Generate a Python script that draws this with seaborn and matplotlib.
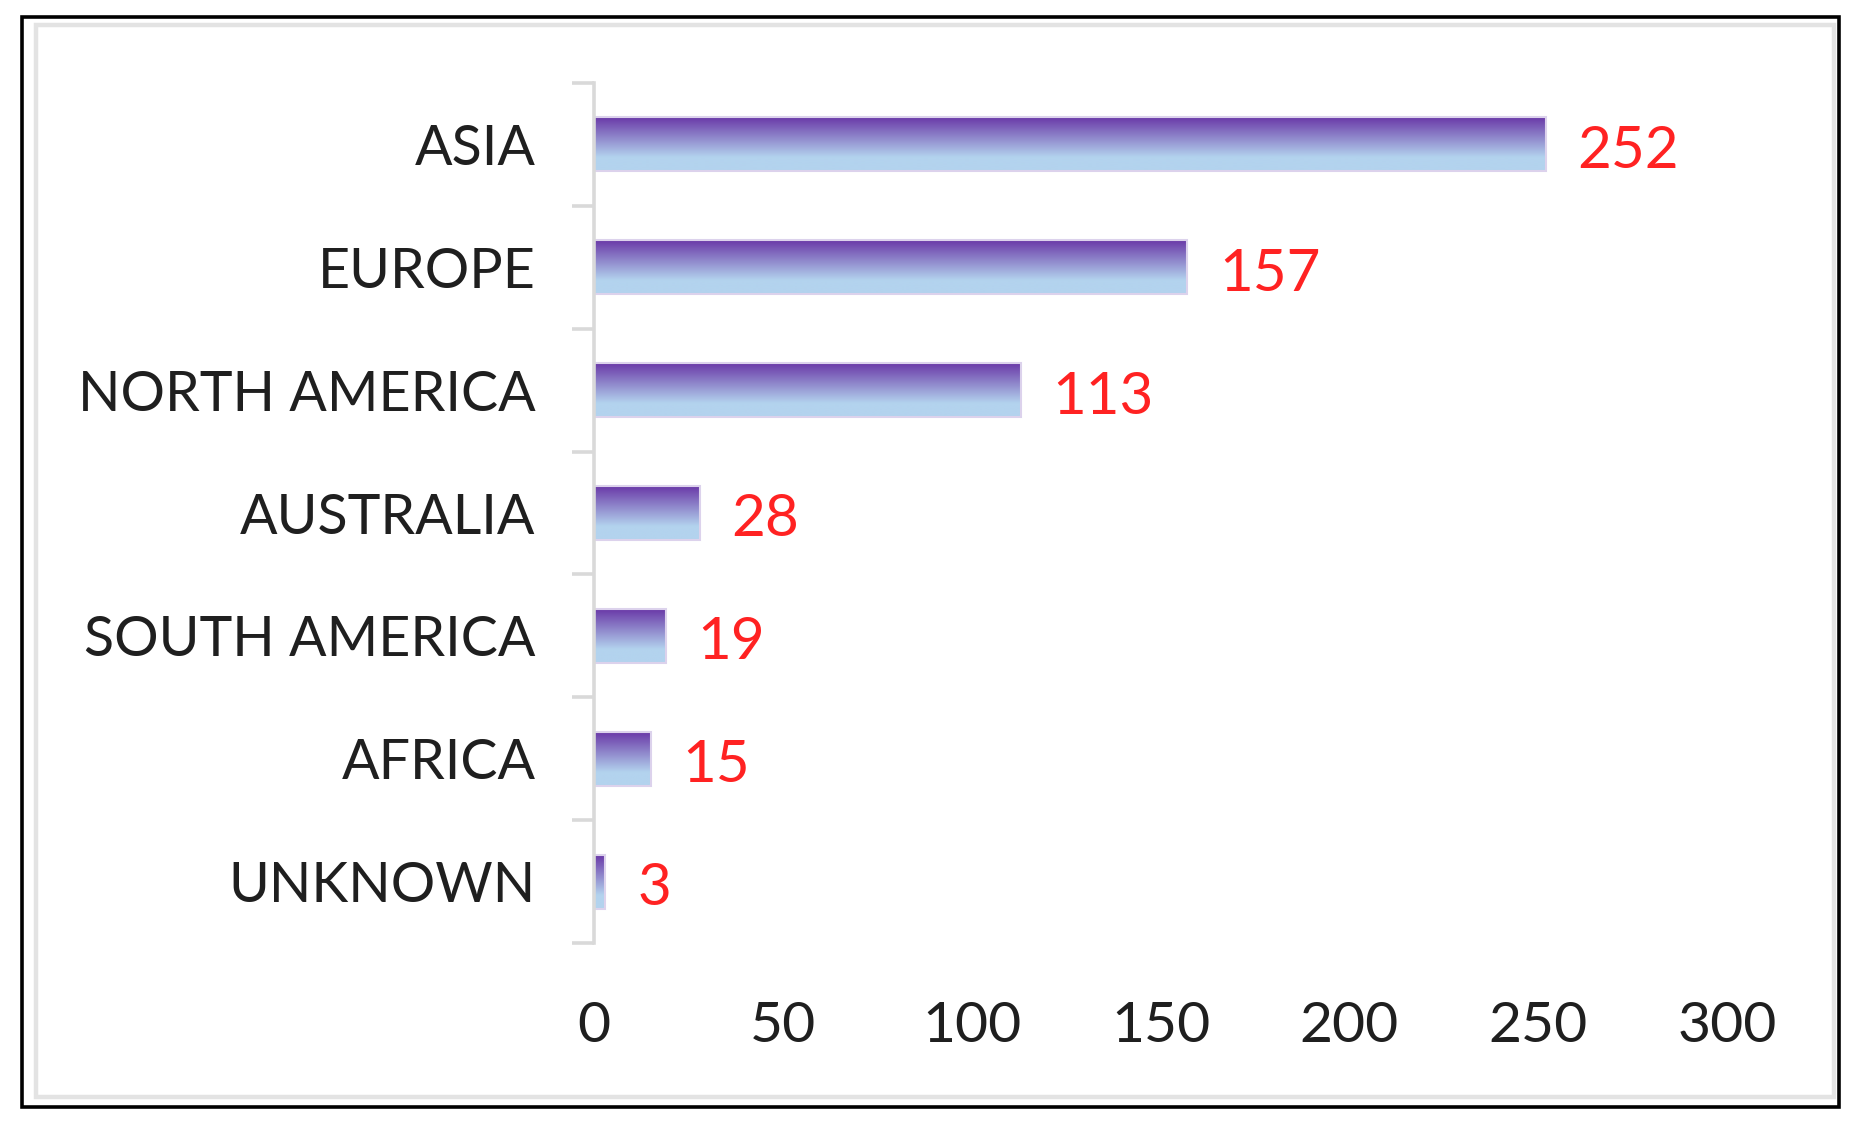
import numpy as np
import pandas as pd
import matplotlib
matplotlib.use("Agg")
import matplotlib.pyplot as plt
import seaborn as sns
from matplotlib.patches import Rectangle
from matplotlib.colors import to_rgb

# ---- data ----
regions = ["ASIA", "EUROPE", "NORTH AMERICA", "AUSTRALIA", "SOUTH AMERICA", "AFRICA", "UNKNOWN"]
counts = [252, 157, 113, 28, 19, 15, 3]
x_ticks = [0, 50, 100, 150, 200, 250, 300]

df = pd.DataFrame({"region": regions, "count": counts})

sns.set_theme(style="white")
plt.rcParams["font.family"] = ["Lato", "DejaVu Sans"]

W, H = 1864, 1129
fig = plt.figure(figsize=(W / 100, H / 100), dpi=100)
fig.patch.set_facecolor("white")

ax_left, ax_right, ax_top, ax_bot = 594, 1727, 83, 943
ax = fig.add_axes([ax_left / W, 1 - ax_bot / H, (ax_right - ax_left) / W, (ax_bot - ax_top) / H])

sns.barplot(data=df, x="count", y="region", orient="h", width=0.44,
            color="#7443AE", ax=ax, zorder=2)

# gradient fill for each bar
top_c = np.array(to_rgb("#6835A6"))
bot_c = np.array(to_rgb("#B3D3EE"))
n = 200
t = np.linspace(0, 1, n)
frac = np.clip(t / 0.75, 0, 1)
grad = (top_c[None, :] * (1 - frac[:, None]) + bot_c[None, :] * frac[:, None])
grad = grad[:, None, :]

for p in ax.patches:
    x0, y0 = p.get_x(), p.get_y()
    w, h = p.get_width(), p.get_height()
    p.set_facecolor("none")
    p.set_edgecolor("#DCD2EC")
    p.set_linewidth(1.5)
    im = ax.imshow(grad, extent=(x0, x0 + w, y0 + h, y0), origin="upper",
                   aspect="auto", zorder=1.5, interpolation="bilinear")
    im.set_clip_path(p)

ax.set_xlim(0, 300)
ax.set_ylim(len(regions) - 0.5, -0.5)

# value labels
for i, v in enumerate(counts):
    ax.annotate(str(v), xy=(v, i), xytext=(23, -5), textcoords="offset points",
                ha="left", va="center", color="#FF2222", fontsize=42)

# axes styling
for s in ["top", "right", "bottom"]:
    ax.spines[s].set_visible(False)
ax.spines["left"].set_color("#D9D9D9")
ax.spines["left"].set_linewidth(2.6)

ax.set_xticks(x_ticks)
ax.set_xticklabels([str(v) for v in x_ticks])
ax.tick_params(axis="x", length=0, pad=42, labelsize=41, labelcolor="#1F1F1F")

ax.set_yticks(range(len(regions)))
ax.set_yticklabels(regions)
ax.tick_params(axis="y", which="major", length=0, pad=42, labelsize=40, labelcolor="#1F1F1F")
ax.set_yticks(np.arange(-0.5, len(regions), 1.0), minor=True)
ax.tick_params(axis="y", which="minor", length=16, width=2.6, color="#D9D9D9", left=True)

ax.set_xlabel("")
ax.set_ylabel("")
ax.grid(False)

# frames
fig.add_artist(Rectangle((35.5 / W, 1 - 1096.5 / H), (1834 - 35.5) / W, (1096.5 - 25) / H,
                         transform=fig.transFigure, fill=False, edgecolor="#E3E3E3", linewidth=3.2))
fig.add_artist(Rectangle((21.5 / W, 1 - 1106.5 / H), (1839 - 21.5) / W, (1106.5 - 17) / H,
                         transform=fig.transFigure, fill=False, edgecolor="black", linewidth=2.6))

fig.savefig("out.png", dpi=100, facecolor="white")
